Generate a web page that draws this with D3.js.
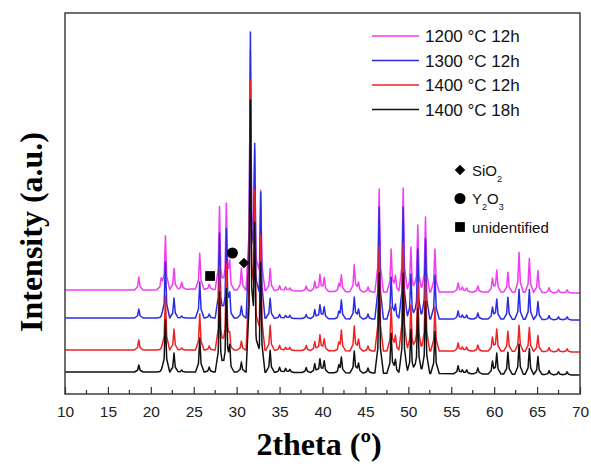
<!DOCTYPE html>
<html>
<head>
<meta charset="utf-8">
<script src="https://cdn.jsdelivr.net/npm/d3@7"></script>
<style>
  body { margin: 0; background: #fff; }
  text { font-family: "Liberation Sans", Arial, sans-serif; }
</style>
</head>
<body>
<svg id="chart" width="591" height="466"></svg>
<script>
// series, drawn back to front (black on top)
const seriesNames = ["1200 °C 12h", "1300 °C 12h", "1400 °C 12h", "1400 °C 18h"];
const seriesColors = ["#f23cf2", "#2b2be6", "#ee2222", "#111111"];

// 2theta of the reflections (deg)
const peakPos = [18.6, 21.2, 21.7, 22.7, 23.6, 25.7, 26.8, 28.0, 28.8, 29.2,
  30.55, 31.6, 32.1, 32.8, 33.9, 35.0, 35.7, 36.2, 38.1, 39.1,
  39.7, 40.2, 41.9, 42.2, 43.7, 44.2, 45.3, 46.6, 48.0, 48.5,
  49.4, 50.3, 51.1, 52.0, 53.1, 55.8, 56.3, 56.8, 58.1, 59.8,
  60.3, 61.6, 62.9, 64.1, 65.1, 66.4, 67.5, 68.5];

// peak heights above background (a.u.)
const h1200 = [13, 12, 54, 21, 7, 36, 5, 83, 85, 24,
  22, 240, 140, 100, 22, 5, 4, 3, 5, 10,
  17, 14, 6, 16, 27, 10, 5, 103, 43, 17,
  104, 45, 67, 75, 43, 9, 5, 4, 6, 14,
  22, 20, 40, 34, 22, 5, 3, 3];
const h1300 = [9, 2, 56, 20, 2, 36, 4, 85, 88, 20,
  12, 286, 175, 126, 20, 4, 3, 3, 4, 9,
  14, 12, 5, 18, 22, 10, 5, 112, 42, 15,
  112, 45, 70, 80, 44, 8, 4, 4, 6, 12,
  20, 22, 30, 30, 18, 4, 3, 3];
const h1400a = [10, 2, 54, 21, 2, 36, 4, 84, 86, 12,
  9, 270, 160, 115, 25, 5, 3, 3, 5, 9,
  16, 12, 6, 20, 25, 12, 5, 105, 44, 16,
  108, 46, 68, 75, 44, 8, 4, 4, 6, 14,
  22, 20, 26, 24, 16, 4, 3, 3];
const h1400b = [7, 2, 52, 19, 2, 34, 5, 80, 82, 22,
  10, 272, 150, 110, 22, 5, 4, 3, 5, 9,
  14, 12, 6, 15, 22, 10, 5, 100, 40, 14,
  100, 44, 65, 72, 42, 8, 4, 4, 6, 13,
  21, 22, 30, 26, 18, 4, 3, 3];
const heights = [h1200, h1300, h1400a, h1400b];

// background level of each stacked pattern (a.u.)
const bgPos = [10, 20, 25, 30, 45, 60, 70];
const bg1200 = [104, 104, 105, 104, 102, 102, 101];
const bg1300 = [76, 76, 76, 76, 75, 75, 74];
const bg1400a = [44, 44, 44, 44, 43, 43, 42];
const bg1400b = [22, 22, 22, 22, 21, 20, 19];
const backgrounds = [bg1200, bg1300, bg1400a, bg1400b];

// phase markers
const markerPhase = ["SiO2", "Y2O3", "unidentified"];
const markerSymbol = [d3.symbolDiamond2, d3.symbolCircle, d3.symbolSquare];
const markerX = [30.85, 29.5, 26.9];
const markerY = [131, 141, 118];

const xTicks = d3.range(10, 71, 5);

const M = { left: 65, right: 580, top: 13, bottom: 394 };
const svg = d3.select("#chart");

const x = d3.scaleLinear().domain([10, 70]).range([M.left, M.right]);
const y = d3.scaleLinear().domain([0, 381]).range([M.bottom, M.top]);

// peak profile (relative)
const shapeDx = [-0.5, -0.15, 0, 0.15, 0.5];
const shapeF = [0, 0.25, 1, 0.25, 0];
const shape = d3.scaleLinear().domain(shapeDx).range(shapeF).clamp(true);

function profile(hs, bg) {
  const bgScale = d3.scaleLinear().domain(bgPos).range(bg);
  const xs = new Set(bgPos);
  peakPos.forEach(p => shapeDx.forEach(d => {
    const v = +(p + d).toFixed(3);
    if (v >= 10 && v <= 70) xs.add(v);
  }));
  return Array.from(xs).sort((a, b) => a - b).map(t => {
    let v = bgScale(t);
    peakPos.forEach((p, i) => {
      if (Math.abs(t - p) < 0.5) v += hs[i] * shape(t - p);
    });
    return [t, v];
  });
}

const line = d3.line().x(d => x(d[0])).y(d => y(d[1]));

const plot = svg.append("g");
seriesNames.forEach((name, i) => {
  plot.append("path")
    .datum(profile(heights[i], backgrounds[i]))
    .attr("fill", "none")
    .attr("stroke", seriesColors[i])
    .attr("stroke-width", 1.5)
    .attr("stroke-linejoin", "round")
    .attr("d", line);
});

// markers over the peaks
markerPhase.forEach((p, i) => {
  plot.append("path")
    .attr("transform", `translate(${x(markerX[i])},${y(markerY[i])})`)
    .attr("d", d3.symbol().type(markerSymbol[i]).size(i === 0 ? 70 : 95)())
    .attr("fill", "#000");
});

// frame
svg.append("rect")
  .attr("x", M.left).attr("y", M.top)
  .attr("width", M.right - M.left).attr("height", M.bottom - M.top)
  .attr("fill", "none").attr("stroke", "#4a4a4a").attr("stroke-width", 1.6);

// x axis, ticks pointing inward
const xAxis = d3.axisBottom(x).tickValues(xTicks).tickSize(-7).tickPadding(12).tickFormat(d3.format("d"));
const gx = svg.append("g").attr("transform", `translate(0,${M.bottom})`).call(xAxis);
gx.select(".domain").remove();
gx.selectAll(".tick line").attr("stroke", "#333").attr("stroke-width", 1.2);
gx.selectAll(".tick text").attr("font-size", 15.5).attr("fill", "#222")
  .attr("font-family", "Liberation Sans, Arial, sans-serif");
gx.selectAll(".minor").data(d3.range(12.5, 70, 5)).join("line")
  .attr("x1", d => x(d)).attr("x2", d => x(d))
  .attr("y1", 0).attr("y2", -4)
  .attr("stroke", "#333").attr("stroke-width", 1.2);

// axis titles
svg.append("text")
  .attr("x", 319).attr("y", 455)
  .attr("text-anchor", "middle")
  .style("font-family", "Liberation Serif, Times New Roman, serif")
  .style("font-weight", "bold").style("font-size", "32px")
  .text("2theta (º)");
svg.append("text")
  .attr("transform", "translate(42,232) rotate(-90)")
  .attr("text-anchor", "middle")
  .style("font-family", "Liberation Serif, Times New Roman, serif")
  .style("font-weight", "bold").style("font-size", "32px")
  .text("Intensity (a.u.)");

// series legend
const leg = svg.append("g");
seriesNames.forEach((name, i) => {
  const ly = 36 + i * 24.5;
  leg.append("line")
    .attr("x1", 372).attr("x2", 419).attr("y1", ly).attr("y2", ly)
    .attr("stroke", seriesColors[i]).attr("stroke-width", 1.3);
  leg.append("text")
    .attr("x", 425).attr("y", ly + 6)
    .attr("font-size", 17).attr("fill", "#111")
    .text(name);
});

// phase legend
const ph = svg.append("g");
const phaseLabels = [["SiO", "2"], ["Y", "2", "O", "3"], ["unidentified"]];
markerPhase.forEach((p, i) => {
  const ly = 170 + i * 28.5;
  ph.append("path")
    .attr("transform", `translate(460,${ly})`)
    .attr("d", d3.symbol().type(markerSymbol[i]).size(i === 0 ? 70 : 95)())
    .attr("fill", "#000");
  const t = ph.append("text").attr("x", 472).attr("y", ly + 5.5).attr("font-size", 15).attr("fill", "#111");
  phaseLabels[i].forEach((s, k) => {
    const sub = k % 2 === 1;
    t.append("tspan")
      .attr("font-size", sub ? 9 : 15)
      .attr("dy", sub ? 6 : (k > 0 ? -6 : 0))
      .text(s);
  });
});
</script>
</body>
</html>
